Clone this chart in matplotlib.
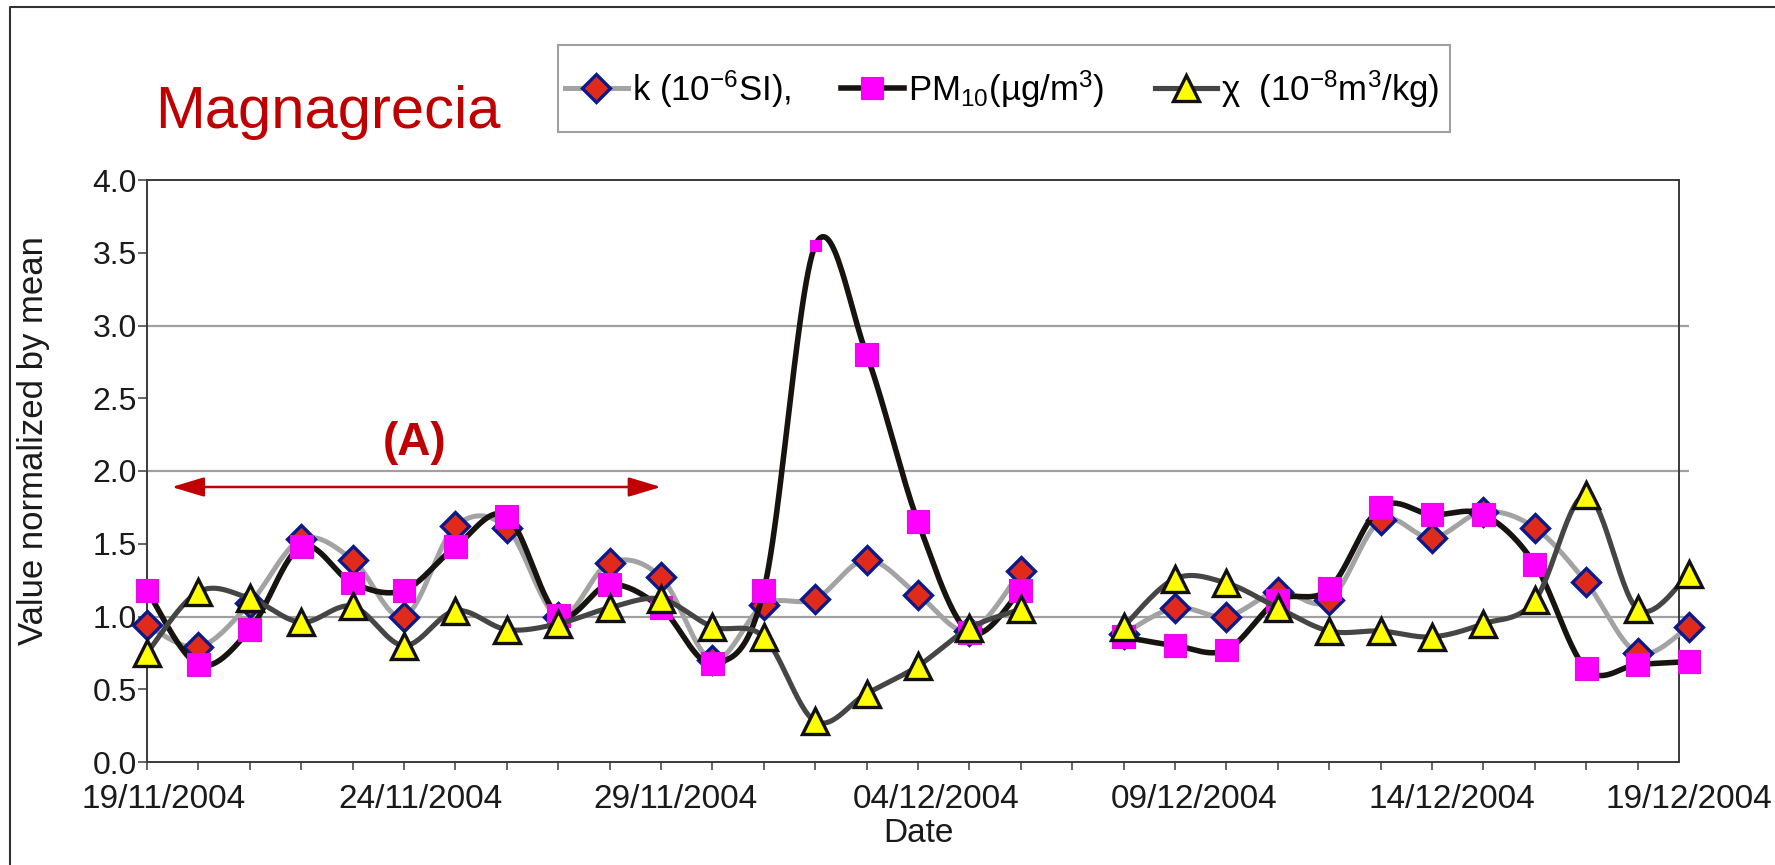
import numpy as np
import matplotlib
matplotlib.use("Agg")
import matplotlib.pyplot as plt
from matplotlib.lines import Line2D
from matplotlib.patches import Rectangle
from matplotlib.ticker import FormatStrFormatter, FixedLocator

plt.rcParams['font.family'] = ['Liberation Sans', 'DejaVu Sans']
plt.rcParams['mathtext.fontset'] = 'custom'
plt.rcParams['mathtext.rm'] = 'Liberation Sans'
plt.rcParams['mathtext.it'] = 'Liberation Sans:italic'
plt.rcParams['mathtext.bf'] = 'Liberation Sans:bold'

# ---------------- data ----------------
dates = ['19/11/2004', '20/11/2004', '21/11/2004', '22/11/2004', '23/11/2004',
         '24/11/2004', '25/11/2004', '26/11/2004', '27/11/2004', '28/11/2004',
         '29/11/2004', '30/11/2004', '01/12/2004', '02/12/2004', '03/12/2004',
         '04/12/2004', '05/12/2004', '06/12/2004', '07/12/2004', '08/12/2004',
         '09/12/2004', '10/12/2004', '11/12/2004', '12/12/2004', '13/12/2004',
         '14/12/2004', '15/12/2004', '16/12/2004', '17/12/2004', '18/12/2004',
         '19/12/2004']
k_si = [0.94, 0.79, 1.09, 1.53, 1.39, 1.00, 1.62, 1.61, 1.00, 1.37,
        1.27, 0.70, 1.08, 1.12, 1.39, 1.15, 0.90, 1.31, np.nan, 0.88,
        1.06, 1.00, 1.17, 1.11, 1.66, 1.54, 1.72, 1.61, 1.235, 0.75, 0.93]
pm10 = [1.18, 0.67, 0.91, 1.48, 1.23, 1.18, 1.48, 1.69, 1.01, 1.22,
        1.06, 0.68, 1.18, 3.55, 2.80, 1.65, 0.89, 1.18, np.nan, 0.86,
        0.80, 0.77, 1.11, 1.19, 1.75, 1.70, 1.70, 1.36, 0.64, 0.67, 0.69]
chi = [0.75, 1.17, 1.125, 0.96, 1.07, 0.80, 1.04, 0.91, 0.95, 1.06,
       1.12, 0.93, 0.86, 0.28, 0.47, 0.66, 0.92, 1.05, np.nan, 0.93,
       1.26, 1.23, 1.06, 0.90, 0.90, 0.86, 0.95, 1.11, 1.835, 1.05, 1.29]
tick_dates = ['19/11/2004', '24/11/2004', '29/11/2004', '04/12/2004',
              '09/12/2004', '14/12/2004', '19/12/2004']
label_k = 'k (10$^{-6}$SI),'
label_pm = 'PM$_{10}$(µg/m$^{3}$)'
label_chi = 'χ  (10$^{-8}$m$^{3}$/kg)'

# ---------------- helpers ----------------
def excel_smooth(x, y, n=30):
    """Excel-like smoothed line (Catmull-Rom as cubic Bezier), broken at NaN."""
    x = np.asarray(x, float)
    y = np.asarray(y, float)
    ok = np.isfinite(y)
    segs = []
    start = None
    for i in range(len(y) + 1):
        if i < len(y) and ok[i]:
            if start is None:
                start = i
        else:
            if start is not None:
                segs.append((start, i))
                start = None
    out_x, out_y = [], []
    t = np.linspace(0, 1, n)
    for a, b in segs:
        P = np.column_stack([x[a:b], y[a:b]])
        m = len(P)
        for i in range(m - 1):
            p0 = P[i]
            p1 = P[i + 1]
            pm = P[i - 1] if i > 0 else P[i]
            pn = P[i + 2] if i + 2 < m else P[i + 1]
            c1 = p0 + (p1 - pm) / 6.0
            c2 = p1 - (pn - p0) / 6.0
            B = ((1 - t) ** 3)[:, None] * p0 + (3 * (1 - t) ** 2 * t)[:, None] * c1 \
                + (3 * (1 - t) * t ** 2)[:, None] * c2 + (t ** 3)[:, None] * p1
            out_x.extend(B[:, 0])
            out_y.extend(B[:, 1])
        out_x.append(np.nan)
        out_y.append(np.nan)
    return np.array(out_x), np.array(out_y)

# ---------------- figure ----------------
W, H = 1775, 865
fig = plt.figure(figsize=(W / 100, H / 100), dpi=100)
ax_left, ax_right, ax_top, ax_bot = 147, 1689, 180, 762
ax = fig.add_axes([ax_left / W, 1 - ax_bot / H, (ax_right - ax_left) / W, (ax_bot - ax_top) / H])

x = np.arange(len(dates))
pos = {d: i for i, d in enumerate(dates)}
xmax = len(dates) - 1

c_k_line = '#a3a3a3'
c_pm_line = '#17130f'
c_chi_line = '#454545'
red = '#c00000'

ms_k, ms_pm, ms_chi = 14.0, 16.5, 19.0
lw_k, lw_pm, lw_chi = 3.6, 4.0, 3.7

# k series
sx, sy = excel_smooth(x, k_si)
ax.plot(sx, sy, color=c_k_line, lw=lw_k, zorder=3, clip_on=False, solid_capstyle='round')
ax.plot(x, k_si, ls='none', marker='D', ms=ms_k, mfc='#e02a1c', mec='#0a1a8c', mew=2.4,
        zorder=4, clip_on=False)

# PM10 series
sx, sy = excel_smooth(x, pm10)
ax.plot(sx, sy, color=c_pm_line, lw=lw_pm, zorder=5, clip_on=False, solid_capstyle='round')
pm_arr = np.asarray(pm10, float)
pm_sizes = np.full(len(pm_arr), ms_pm)
pm_sizes[np.nanargmax(pm_arr)] = 8.0
ax.scatter(x, pm_arr, s=pm_sizes ** 2, marker='s', c='#ff00ff', edgecolors='#e010e0',
           linewidths=0.8, zorder=6, clip_on=False)

# chi series
sx, sy = excel_smooth(x, chi)
ax.plot(sx, sy, color=c_chi_line, lw=lw_chi, zorder=7, clip_on=False, solid_capstyle='round')
ax.plot(x, chi, ls='none', marker='^', ms=ms_chi, mfc='#ffff00', mec='#111111', mew=2.4,
        zorder=8, clip_on=False)

# axes styling
ax.set_xlim(0, xmax)
ax.set_ylim(0, 4.0)
right_edge = xmax - 0.2
for s in ['top', 'bottom', 'left', 'right']:
    ax.spines[s].set_color('#3a3a3a')
    ax.spines[s].set_linewidth(1.4)
ax.spines['right'].set_position(('data', right_edge))
ax.spines['top'].set_bounds(0, right_edge)
ax.spines['bottom'].set_bounds(0, right_edge)

ax.hlines([1.0, 2.0, 3.0], 0, xmax, colors='#a0a0a0', lw=1.6, zorder=1)

ax.set_yticks(np.arange(0, 4.01, 0.5))
ax.yaxis.set_major_formatter(FormatStrFormatter('%.1f'))
ax.tick_params(axis='y', direction='out', length=6.5, width=1.1, pad=1,
               labelsize=23, colors='#3a3a3a', labelcolor='#1a1a1a')

label_offsets = [0.32, 0.32, 0.29, 0.36, 0.38, 0.38, 0.0]
ax.xaxis.set_minor_locator(FixedLocator(x))
ax.set_xticks([pos[d] + o for d, o in zip(tick_dates, label_offsets)])
ax.set_xticklabels(tick_dates)
ax.tick_params(axis='x', which='major', length=0, pad=16, labelsize=24, labelcolor='#1a1a1a')
ax.tick_params(axis='x', which='minor', direction='out', length=5.5, width=1.1, colors='#3a3a3a')

ax.set_xlabel('Date', fontsize=24, labelpad=2, color='#1a1a1a')
ax.set_ylabel('Value normalized by mean', fontsize=25, color='#1a1a1a', va='center')
ax.yaxis.set_label_coords((34 - ax_left) / (ax_right - ax_left), (ax_bot - 441) / (ax_bot - ax_top))

# annotation (A) with double arrow
ax.annotate('', xy=(0.48, 1.89), xytext=(10.0, 1.89),
            arrowprops=dict(arrowstyle='<|-|>,head_length=1.0,head_width=0.3',
                            mutation_scale=20, color=red, lw=1.8, shrinkA=0, shrinkB=0),
            annotation_clip=False, zorder=2)
ax.text(5.2, 2.19, '(A)', color=red, fontsize=33, fontweight='bold', ha='center', va='center')

# title
fig.text(155 / W, 1 - 128 / H, 'Magnagrecia', color=red, fontsize=43, ha='left', va='baseline')

# legend
handles = [
    Line2D([], [], color=c_k_line, lw=lw_k, marker='D', ms=ms_k, mfc='#e02a1c', mec='#0a1a8c', mew=2.4),
    Line2D([], [], color=c_pm_line, lw=lw_pm, marker='s', ms=ms_pm, mfc='#ff00ff', mec='#e010e0', mew=0.8),
    Line2D([], [], color=c_chi_line, lw=lw_chi, marker='^', ms=ms_chi, mfc='#ffff00', mec='#111111', mew=2.4),
]
leg = fig.legend(handles, [label_k, label_pm, label_chi], ncol=3, frameon=False,
                 loc='center left', bbox_to_anchor=(565 / W, 1 - 89 / H),
                 fontsize=25, handlelength=1.8, handletextpad=0.12, columnspacing=1.45,
                 borderpad=0, borderaxespad=0, numpoints=1)
fig.add_artist(Rectangle((558 / W, 1 - 132 / H), (1450 - 558) / W, (132 - 45) / H,
                         transform=fig.transFigure, fill=False, ec='#a0a0a0', lw=1.5))

# outer frame (top and left)
fig.add_artist(Line2D([10 / W, 10 / W, 1.0], [0.0, 1 - 7 / H, 1 - 7 / H],
                      transform=fig.transFigure, color='#333333', lw=1.5))

fig.savefig('out.png', dpi=100)
